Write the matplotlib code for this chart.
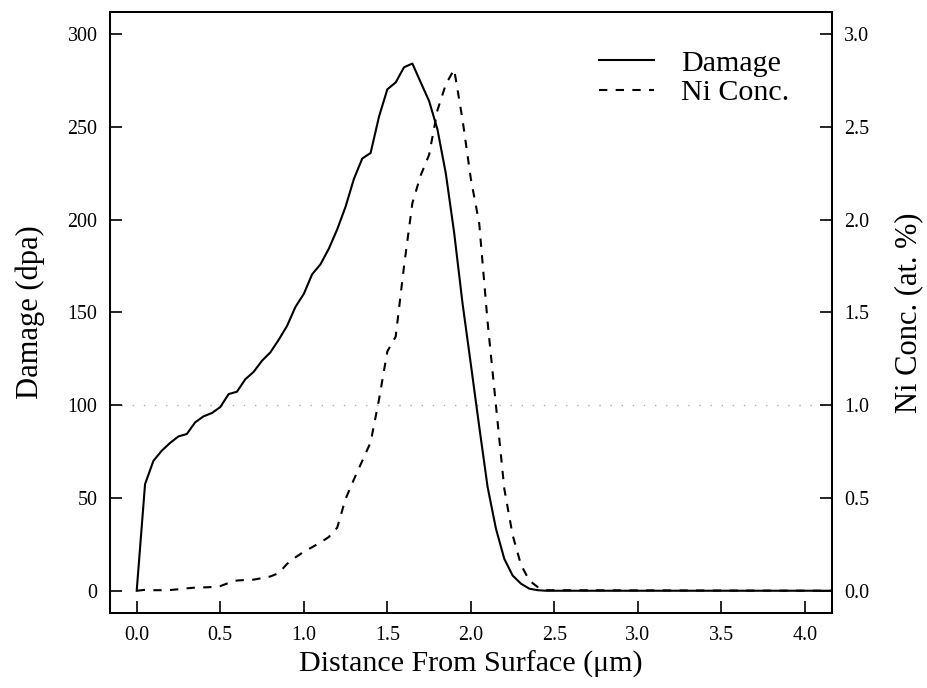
import matplotlib
matplotlib.use("Agg")
import matplotlib.pyplot as plt

plt.rcParams['font.family'] = ['Liberation Serif', 'DejaVu Serif']

# depth below surface (um)
depth = [0.00, 0.05, 0.10, 0.15, 0.20, 0.25, 0.30, 0.35, 0.40, 0.45,
         0.50, 0.55, 0.60, 0.65, 0.70, 0.75, 0.80, 0.85, 0.90, 0.95,
         1.00, 1.05, 1.10, 1.15, 1.20, 1.25, 1.30, 1.35, 1.40, 1.45,
         1.50, 1.55, 1.60, 1.65, 1.70, 1.75, 1.80, 1.85, 1.90, 1.95,
         2.00, 2.05, 2.10, 2.15, 2.20, 2.25, 2.30, 2.35, 2.40, 2.45,
         4.20]

# damage profile (dpa)
damage = [0.0, 57.5, 70.0, 75.5, 79.7, 83.2, 84.5, 90.8, 94.0, 95.8,
          99.0, 106.0, 107.3, 114.0, 118.0, 124.0, 128.5, 135.3, 142.8, 153.0,
          160.0, 170.6, 176.0, 184.4, 194.8, 207.0, 222.0, 233.0, 236.0, 255.5,
          270.3, 274.0, 282.2, 284.2, 274.0, 264.0, 248.7, 225.0, 193.0, 155.0,
          122.0, 88.5, 56.0, 33.5, 17.2, 8.2, 3.8, 1.1, 0.3, 0.0,
          0.0]

# implanted Ni concentration (at. %)
ni_conc = [0.0, 0.005, 0.003, 0.003, 0.004, 0.008, 0.013, 0.017, 0.018, 0.02,
           0.025, 0.042, 0.055, 0.058, 0.06, 0.068, 0.077, 0.095, 0.145, 0.18,
           0.21, 0.235, 0.26, 0.29, 0.34, 0.495, 0.60, 0.70, 0.80, 1.03,
           1.29, 1.37, 1.75, 2.09, 2.24, 2.35, 2.59, 2.73, 2.81, 2.54,
           2.22, 1.98, 1.45, 1.00, 0.55, 0.30, 0.14, 0.055, 0.02, 0.003,
           0.0]

ref_damage = 100

x_ticks = [0.0, 0.5, 1.0, 1.5, 2.0, 2.5, 3.0, 3.5, 4.0]
y_ticks = [0, 50, 100, 150, 200, 250, 300]
y2_ticks = [0.0, 0.5, 1.0, 1.5, 2.0, 2.5, 3.0]

fig = plt.figure(figsize=(9.28, 6.88), dpi=100)
ax = fig.add_axes([0.1185, 0.109, 0.7778, 0.8736])
ax2 = ax.twinx()

lw = 1.5
ax.axhline(ref_damage, color='#aaaaaa', lw=1.0, ls=(0, (1, 7)), zorder=1)
l1, = ax.plot(depth, damage, color='black', lw=lw, ls='-', label='Damage')
l2, = ax2.plot(depth, ni_conc, color='black', lw=lw, ls=(0, (4, 4)), label='Ni Conc.')

ax.set_xlim(-0.16, 4.16)
ax.set_ylim(-12, 312)
ax2.set_ylim(-0.12, 3.12)

ax.set_xticks(x_ticks)
ax.set_xticklabels([f'{v:.1f}' for v in x_ticks])
ax.set_yticks(y_ticks)
ax2.set_yticks(y2_ticks)
ax2.set_yticklabels([f'{v:.1f}' for v in y2_ticks])

tick_kw = dict(direction='in', length=8.6, width=1.2, labelsize=14.4, pad=9)
ax.tick_params(axis='both', **tick_kw)
ax2.tick_params(axis='y', **tick_kw)

for a in (ax, ax2):
    for s in a.spines.values():
        s.set_linewidth(1.45)

ax.set_xlabel('Distance From Surface (\u03bcm)', fontsize=21.6, labelpad=4.5)
ax.set_ylabel('Damage (dpa)', fontsize=22, labelpad=16)
ax2.set_ylabel('Ni Conc. (at. %)', fontsize=22, labelpad=18)

ax2.legend([l1, l2], ['Damage', 'Ni Conc.'], loc='upper left',
           bbox_to_anchor=(0.678, 0.937), frameon=False, fontsize=21.6,
           handlelength=1.83, handletextpad=0.9, labelspacing=0.08,
           borderpad=0, borderaxespad=0)

fig.savefig('out.png', dpi=100)
